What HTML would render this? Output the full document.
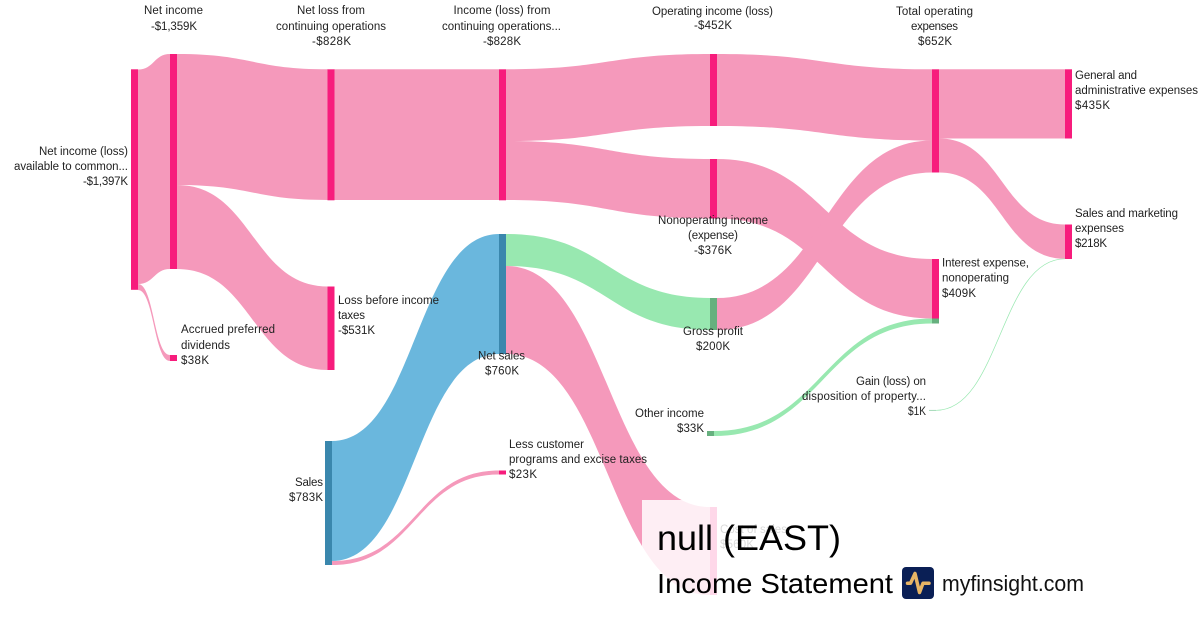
<!DOCTYPE html>
<html><head><meta charset="utf-8"><title>null (EAST) Income Statement</title>
<style>
html,body{margin:0;padding:0;background:#fff}
svg{display:block}
text{font-family:"Liberation Sans",sans-serif;font-size:11.5px;fill:#222}
.m{text-anchor:middle}.e{text-anchor:end}
</style></head><body>
<svg width="1200" height="630" viewBox="0 0 1200 630" xmlns="http://www.w3.org/2000/svg">
<rect width="1200" height="630" fill="#fff"/>
<g fill="#f599bb">
<path d="M138 69.5C154 69.5 154 54 170 54L170 269C154 269 154 284 138 284Z"/>
<path d="M138 284C154 284 154 355 170 355L170 361C154 361 154 290 138 290Z"/>
<path d="M177 54C252.500 54 252.500 69.300 328 69.300L328 200C252.500 200 252.500 185 177 185Z"/>
<path d="M177 185C252.500 185 252.500 286.500 328 286.500L328 370C252.500 370 252.500 269 177 269Z"/>
<path d="M334 69.300H499V200H334Z"/>
<path d="M506 69.300C608 69.300 608 54 710 54L710 126C608 126 608 141 506 141Z"/>
<path d="M506 141C608 141 608 159 710 159L710 218.500C608 218.500 608 200 506 200Z"/>
<path d="M717 54C824.500 54 824.500 69.300 932 69.300L932 140.500C824.500 140.500 824.500 126 717 126Z"/>
<path d="M717 159C824.500 159 824.500 259 932 259L932 318.500C824.500 318.500 824.500 218.500 717 218.500Z"/>
<path d="M717 298C824.500 298 824.500 140.500 932 140.500L932 172.500C824.500 172.500 824.500 330 717 330Z"/>
<path d="M939 69.300H1065V138.500H939Z"/>
<path d="M939 138.500C1002 138.500 1002 224.500 1065 224.500L1065 258.800C1002 258.800 1002 172.500 939 172.500Z"/>
<path d="M332 561C415.500 561 415.500 470.500 499 470.500L499 474.500C415.500 474.500 415.500 565 332 565Z"/>
<path d="M506 266C608 266 608 507 710 507L710 595C608 595 608 354 506 354Z"/>
</g>
<path d="M332 441C415.500 441 415.500 234 499 234L499 354C415.500 354 415.500 561 332 561Z" fill="#6ab7dd"/>
<g fill="#98e8b0">
<path d="M506 234C608 234 608 298 710 298L710 330C608 330 608 266 506 266Z"/>
<path d="M714 431C823 431 823 318.500 932 318.500L932 323.500C823 323.500 823 436 714 436Z"/>
</g>
<path d="M936 410.300C1000 410.300 1000 258.800 1065 258.800" fill="none" stroke="#98e8b0" stroke-width=".7"/>
<path d="M929 410.300H936" stroke="#7fc99a" stroke-width=".7"/>
<g fill="#f71c7c">
<rect x="131" y="69.300" width="7" height="220.500"/>
<rect x="170" y="54" width="7" height="215"/>
<rect x="170" y="355" width="7" height="6"/>
<rect x="327.500" y="69.300" width="7" height="131"/>
<rect x="327.500" y="286.500" width="7" height="83.500"/>
<rect x="499" y="69.300" width="7" height="131"/>
<rect x="499" y="470.500" width="7" height="4"/>
<rect x="710" y="54" width="7" height="72"/>
<rect x="710" y="159" width="7" height="59.500"/>
<rect x="710" y="507" width="7" height="88"/>
<rect x="932" y="69.300" width="7" height="103.200"/>
<rect x="932" y="259" width="7" height="64.500"/>
<rect x="1065" y="69.300" width="7" height="69.200"/>
<rect x="1065" y="224.500" width="7" height="34.500"/>
</g>
<g fill="#3a87ad">
<rect x="325" y="441" width="7" height="124"/>
<rect x="499" y="234" width="7" height="120"/>
</g>
<g fill="#66b07e">
<rect x="710" y="298" width="7" height="32"/>
<rect x="707" y="431" width="7" height="5"/>
<rect x="932" y="318.500" width="7" height="5"/>
</g>

<g>
<text class="m" x="173.500" y="14" textLength="59">Net income</text>
<text class="m" x="174" y="30" textLength="46">-$1,359K</text>
<text class="m" x="331" y="14" textLength="68">Net loss from</text>
<text class="m" x="331" y="30" textLength="110">continuing operations</text>
<text class="m" x="331.500" y="45" textLength="39">-$828K</text>
<text class="m" x="502" y="14" textLength="97">Income (loss) from</text>
<text class="m" x="501.500" y="30" textLength="119">continuing operations...</text>
<text class="m" x="502" y="45" textLength="38">-$828K</text>
<text class="m" x="712.500" y="15" textLength="121">Operating income (loss)</text>
<text class="m" x="713" y="29" textLength="38">-$452K</text>
<text class="m" x="934.500" y="15" textLength="77">Total operating</text>
<text class="m" x="934.500" y="30" textLength="47">expenses</text>
<text class="m" x="935" y="45" textLength="34">$652K</text>

<text class="e" x="128" y="155" textLength="89">Net income (loss)</text>
<text class="e" x="128" y="170" textLength="114">available to common...</text>
<text class="e" x="128" y="185" textLength="45">-$1,397K</text>

<text x="181" y="333" textLength="94">Accrued preferred</text>
<text x="181" y="349" textLength="49">dividends</text>
<text x="181" y="364" textLength="28">$38K</text>

<text x="338" y="304" textLength="101">Loss before income</text>
<text x="338" y="319" textLength="27">taxes</text>
<text x="338" y="334" textLength="37">-$531K</text>

<text class="e" x="323" y="486" textLength="28">Sales</text>
<text class="e" x="323" y="501" textLength="34">$783K</text>

<text class="m" x="501.500" y="359.500" textLength="47">Net sales</text>
<text class="m" x="502" y="374.500" textLength="34">$760K</text>

<text x="509" y="448" textLength="75">Less customer</text>
<text x="509" y="463" textLength="138">programs and excise taxes</text>
<text x="509" y="478" textLength="28">$23K</text>

<text class="m" x="713" y="224" textLength="110">Nonoperating income</text>
<text class="m" x="713" y="239" textLength="50">(expense)</text>
<text class="m" x="713" y="254" textLength="38">-$376K</text>

<text class="m" x="713" y="335" textLength="60">Gross profit</text>
<text class="m" x="713" y="350" textLength="34">$200K</text>

<text class="e" x="704" y="417" textLength="69">Other income</text>
<text class="e" x="704" y="432" textLength="27">$33K</text>

<text class="e" x="926" y="385" textLength="70">Gain (loss) on</text>
<text class="e" x="926" y="400" textLength="124">disposition of property...</text>
<text class="e" x="926" y="415" textLength="18" lengthAdjust="spacingAndGlyphs">$1K</text>

<text x="942" y="266.500" textLength="87">Interest expense,</text>
<text x="942" y="281.500" textLength="67">nonoperating</text>
<text x="942" y="297" textLength="34">$409K</text>

<text x="1075" y="79" textLength="62">General and</text>
<text x="1075" y="94" textLength="123">administrative expenses</text>
<text x="1075" y="109" textLength="35">$435K</text>

<text x="1075" y="217" textLength="103">Sales and marketing</text>
<text x="1075" y="232" textLength="49">expenses</text>
<text x="1075" y="247" textLength="32">$218K</text>

<text x="720" y="533" textLength="67">Cost of sales</text>
<text x="720" y="548" textLength="34">$560K</text>
</g>

<rect x="642" y="500" width="458" height="110" fill="#fff" fill-opacity=".83"/>

<text x="657" y="550" textLength="184" lengthAdjust="spacingAndGlyphs" style="font-size:35px;fill:#000">null (EAST)</text>
<text x="657" y="593" textLength="236" lengthAdjust="spacingAndGlyphs" style="font-size:28px;fill:#000">Income Statement</text>
<rect x="902" y="567" width="32" height="32" rx="4" fill="#0a1f55"/>
<path d="M907.500 583.300H910.500L915 573.500L919.500 592.500L923 583.300H929" fill="none" stroke="#e8b565" stroke-width="3.500" stroke-linejoin="round" stroke-linecap="round"/>
<text x="942" y="591" textLength="142" lengthAdjust="spacingAndGlyphs" style="font-size:22px;fill:#111">myfinsight.com</text>
</svg>
</body></html>
